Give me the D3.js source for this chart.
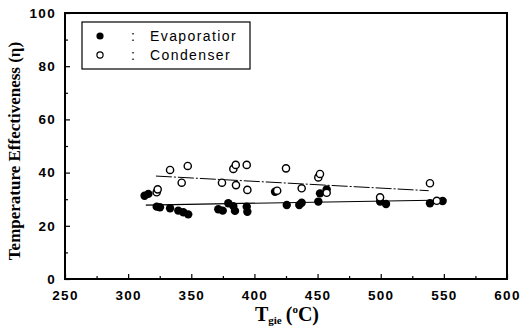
<!DOCTYPE html>
<html>
<head>
<meta charset="utf-8">
<script src="https://cdn.jsdelivr.net/npm/d3@7"></script>
<style>
  html, body { margin: 0; padding: 0; background: #fff; }
  svg { display: block; }
  .tick text { font-family: "Liberation Sans", Arial, sans-serif; font-weight: bold; font-size: 13.5px; letter-spacing: 1.3px; fill: #000; }
</style>
</head>
<body>
<svg id="chart" width="532" height="327"></svg>
<script>
// Gas inlet temperature (°C) vs temperature effectiveness (%)
const evapT   = [313, 316, 322.6, 325.2, 333.2, 339.7, 343.7, 347.6, 371.4, 374.9, 379.3, 383.3, 384.6, 393.9, 394.4,
                 416.3, 425.6, 435.5, 437.4, 450.6, 451.9, 457.2, 499.5, 504.2, 539, 549];
const evapEta = [31.3, 32.0, 27.2, 27.0, 26.6, 25.7, 25.1, 24.3, 26.2, 25.7, 28.5, 27.4, 25.6, 27.2, 25.3,
                 32.8, 27.8, 27.8, 28.7, 29.1, 32.2, 33.7, 29.1, 28.2, 28.5, 29.3];

const condT   = [322.6, 323.4, 333.2, 342.4, 347.2, 374.3, 383.3, 385.2, 385.4, 393.9, 394.4,
                 418, 425, 437.4, 450.6, 451.9, 457.2, 499.5, 539, 544.4];
const condEta = [32.6, 33.7, 41.0, 36.2, 42.5, 36.2, 41.4, 42.9, 35.3, 42.9, 33.5,
                 33.2, 41.6, 34.1, 38.2, 39.5, 32.4, 30.7, 36.0, 29.4];

// fitted trend lines: [start, end]
const evapFitT   = [314, 552];
const evapFitEta = [27.8, 29.7];
const condFitT   = [322, 538];
const condFitEta = [38.7, 33.2];

const xTicks = [250, 300, 350, 400, 450, 500, 550, 600];
const xMinor = [275, 325, 375, 425, 475, 525, 575];
const yTicks = [0, 20, 40, 60, 80, 100];
const yMinor = [10, 30, 50, 70, 90];

const legendLabels = ["Evaporatior", "Condenser"];

const svg = d3.select("#chart");
const plotL = 65, plotR = 507, plotT = 13, plotB = 279;

const x = d3.scaleLinear().domain([250, 600]).range([plotL, plotR]);
const y = d3.scaleLinear().domain([0, 100]).range([plotB, plotT]);

// frame
svg.append("rect")
  .attr("x", plotL).attr("y", plotT)
  .attr("width", plotR - plotL).attr("height", plotB - plotT)
  .attr("fill", "none").attr("stroke", "#000").attr("stroke-width", 2);

// axes with inward ticks
const xAxis = svg.append("g").attr("transform", `translate(0,${plotB})`)
  .call(d3.axisBottom(x).tickValues(xTicks).tickSize(-5).tickPadding(11).tickFormat(d3.format("d")));
const xAxisMinor = svg.append("g").attr("transform", `translate(0,${plotB})`)
  .call(d3.axisBottom(x).tickValues(xMinor).tickSize(-3).tickFormat(""));
const yAxis = svg.append("g").attr("transform", `translate(${plotL},0)`)
  .call(d3.axisLeft(y).tickValues(yTicks).tickSize(-5).tickPadding(9).tickFormat(d3.format("d")));
const yAxisMinor = svg.append("g").attr("transform", `translate(${plotL},0)`)
  .call(d3.axisLeft(y).tickValues(yMinor).tickSize(-3).tickFormat(""));

[xAxis, xAxisMinor, yAxis, yAxisMinor].forEach(g => {
  g.select(".domain").remove();
  g.selectAll(".tick line").attr("stroke", "#000").attr("stroke-width", 1.2);
});

// trend lines
const line = d3.line().x(d => x(d[0])).y(d => y(d[1]));
svg.append("path")
  .attr("d", line(d3.zip(evapFitT, evapFitEta)))
  .attr("fill", "none").attr("stroke", "#000").attr("stroke-width", 1.2);
svg.append("path")
  .attr("d", line(d3.zip(condFitT, condFitEta)))
  .attr("fill", "none").attr("stroke", "#000").attr("stroke-width", 1)
  .attr("stroke-dasharray", "16,2,2,2");

// points
svg.append("g").selectAll("circle")
  .data(d3.zip(evapT, evapEta)).join("circle")
  .attr("cx", d => x(d[0])).attr("cy", d => y(d[1])).attr("r", 4.2)
  .attr("fill", "#000");
svg.append("g").selectAll("circle")
  .data(d3.zip(condT, condEta)).join("circle")
  .attr("cx", d => x(d[0])).attr("cy", d => y(d[1])).attr("r", 3.6)
  .attr("fill", "#fff").attr("stroke", "#000").attr("stroke-width", 1.4);

// legend
const lg = svg.append("g");
lg.append("rect").attr("x", 82).attr("y", 22).attr("width", 168).attr("height", 47)
  .attr("fill", "#fff").attr("stroke", "#000").attr("stroke-width", 1.2);
lg.append("circle").attr("cx", 100).attr("cy", 36).attr("r", 3.6).attr("fill", "#000");
lg.append("circle").attr("cx", 100).attr("cy", 55).attr("r", 3.1).attr("fill", "#fff")
  .attr("stroke", "#000").attr("stroke-width", 1.2);
legendLabels.forEach((t, i) => {
  const yy = 41 + i * 19;
  lg.append("text").attr("x", 131).attr("y", yy).text(":")
    .attr("font-family", "Liberation Sans, Arial, sans-serif").attr("font-size", 14);
  lg.append("text").attr("x", 150).attr("y", yy).text(t)
    .attr("font-family", "Liberation Sans, Arial, sans-serif").attr("font-size", 14)
    .attr("letter-spacing", "1.4px");
});

// axis titles
svg.append("text")
  .attr("transform", `translate(20,${(plotT + plotB) / 2 + 5}) rotate(-90)`)
  .attr("text-anchor", "middle")
  .attr("font-family", "Liberation Serif, Times New Roman, serif")
  .attr("font-weight", "bold").attr("font-size", 17)
  .text("Temperature Effectiveness (η)");

const xt = svg.append("text")
  .attr("x", 287).attr("y", 321).attr("text-anchor", "middle")
  .attr("font-family", "Liberation Serif, Times New Roman, serif")
  .attr("font-weight", "bold").attr("font-size", 20);
xt.append("tspan").text("T");
xt.append("tspan").attr("font-size", 11).attr("dy", 3).text("gie");
xt.append("tspan").attr("dy", -3).attr("dx", 4).text("(");
xt.append("tspan").attr("font-size", 11).attr("dy", -8).text("o");
xt.append("tspan").attr("dy", 8).text("C)");
</script>
</body>
</html>
